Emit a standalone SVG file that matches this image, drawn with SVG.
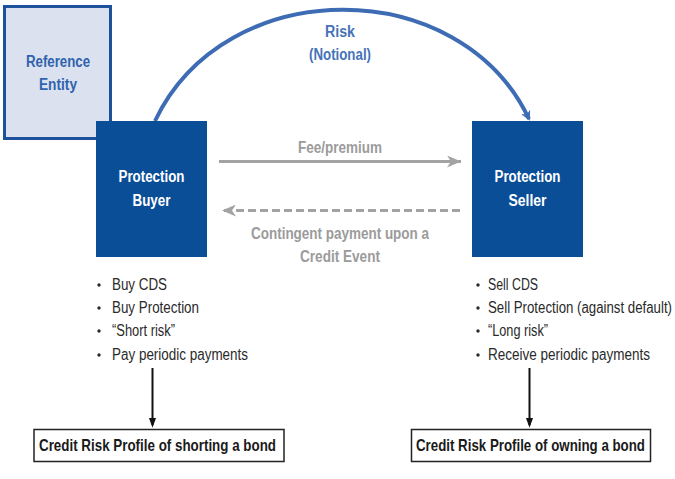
<svg xmlns="http://www.w3.org/2000/svg" width="675" height="479" viewBox="0 0 675 479">
<style>
.nar{font-family:"Liberation Sans Narrow","Liberation Sans",Arial,sans-serif;}
.node{fill:#0b4e98;}
.nlab{fill:#ffffff;font-weight:bold;font-size:16px;text-anchor:middle;}
.blue{fill:#2f63ad;font-weight:bold;font-size:16px;text-anchor:middle;}
.risk{fill:#4672b8;font-weight:bold;font-size:16px;text-anchor:middle;}
.gray{fill:#9b9b9b;font-weight:bold;font-size:16px;text-anchor:middle;}
.bul{fill:#2a2a2a;font-size:16px;}
.box{fill:#ffffff;stroke:#222;stroke-width:1.5;}
.boxt{fill:#1a1a1a;font-weight:bold;font-size:16.5px;}
.dot{fill:#2a2a2a;}
</style>
<defs>
<marker id="mBlue" markerWidth="10" markerHeight="10" refX="8" refY="5" orient="auto" markerUnits="userSpaceOnUse" viewBox="0 0 10 10">
<path d="M0,0 L10,5 L0,10 L3,5 Z" fill="#3e6cb4"/>
</marker>
<marker id="mGray" markerWidth="14" markerHeight="12" refX="14" refY="6" orient="auto" markerUnits="userSpaceOnUse" viewBox="0 0 14 12">
<path d="M0,0 L14,6 L0,12 L4,6 Z" fill="#a3a3a3"/>
</marker>
<marker id="mBlack" markerWidth="10" markerHeight="14" refX="10" refY="5" orient="auto" markerUnits="userSpaceOnUse" viewBox="0 0 14 10">
<path d="M0,0 L14,5 L0,10 Z" fill="#111"/>
</marker>
</defs>

<g id="reference-entity">
<rect x="4.5" y="6.5" width="106" height="132" fill="#dbe1ef" stroke="#1d519b" stroke-width="3"/>
<text class="nar blue" x="58" y="67" textLength="64" lengthAdjust="spacingAndGlyphs">Reference</text>
<text class="nar blue" x="58" y="90" textLength="38" lengthAdjust="spacingAndGlyphs">Entity</text>
</g>

<g id="connectors">
<path d="M155,121 C225,-27 460,-27 529,119" fill="none" stroke="#3e6cb4" stroke-width="4" marker-end="url(#mBlue)"/>
<line x1="219" y1="161.5" x2="461" y2="161.5" stroke="#a3a3a3" stroke-width="3" marker-end="url(#mGray)"/>
<line x1="460" y1="210.5" x2="222" y2="210.5" stroke="#a3a3a3" stroke-width="3" stroke-dasharray="8,4" marker-end="url(#mGray)"/>
<line x1="152.5" y1="368" x2="152.5" y2="425" stroke="#111" stroke-width="2" marker-end="url(#mBlack)"/>
<line x1="529.5" y1="368" x2="529.5" y2="425" stroke="#111" stroke-width="2" marker-end="url(#mBlack)"/>
<text class="nar risk" x="340" y="37" textLength="30" lengthAdjust="spacingAndGlyphs">Risk</text>
<text class="nar risk" x="340" y="60" textLength="62" lengthAdjust="spacingAndGlyphs">(Notional)</text>
<text class="nar gray" x="340" y="153" textLength="84" lengthAdjust="spacingAndGlyphs">Fee/premium</text>
<text class="nar gray" x="340" y="239" textLength="178" lengthAdjust="spacingAndGlyphs">Contingent payment upon a</text>
<text class="nar gray" x="340" y="262" textLength="80" lengthAdjust="spacingAndGlyphs">Credit Event</text>
</g>

<g id="protection-buyer">
<rect class="node" x="96" y="121" width="111" height="136"/>
<text class="nar nlab" x="151.5" y="182" textLength="66" lengthAdjust="spacingAndGlyphs">Protection</text>
<text class="nar nlab" x="151.5" y="206" textLength="38" lengthAdjust="spacingAndGlyphs">Buyer</text>
</g>

<g id="protection-seller">
<rect class="node" x="472" y="121" width="111" height="136"/>
<text class="nar nlab" x="527.5" y="182" textLength="66" lengthAdjust="spacingAndGlyphs">Protection</text>
<text class="nar nlab" x="527.5" y="206" textLength="38" lengthAdjust="spacingAndGlyphs">Seller</text>
</g>

<g id="buyer-bullets">
<circle class="dot" cx="99" cy="285" r="1.7"/>
<circle class="dot" cx="99" cy="308" r="1.7"/>
<circle class="dot" cx="99" cy="331" r="1.7"/>
<circle class="dot" cx="99" cy="355" r="1.7"/>
<text class="nar bul" x="112" y="290" textLength="55" lengthAdjust="spacingAndGlyphs">Buy CDS</text>
<text class="nar bul" x="112" y="313" textLength="87" lengthAdjust="spacingAndGlyphs">Buy Protection</text>
<text class="nar bul" x="112" y="336" textLength="63" lengthAdjust="spacingAndGlyphs">“Short risk”</text>
<text class="nar bul" x="112" y="360" textLength="136" lengthAdjust="spacingAndGlyphs">Pay periodic payments</text>
</g>

<g id="seller-bullets">
<circle class="dot" cx="478" cy="285" r="1.7"/>
<circle class="dot" cx="478" cy="308" r="1.7"/>
<circle class="dot" cx="478" cy="331" r="1.7"/>
<circle class="dot" cx="478" cy="355" r="1.7"/>
<text class="nar bul" x="488" y="290" textLength="50" lengthAdjust="spacingAndGlyphs">Sell CDS</text>
<text class="nar bul" x="488" y="313" textLength="184" lengthAdjust="spacingAndGlyphs">Sell Protection (against default)</text>
<text class="nar bul" x="488" y="336" textLength="60" lengthAdjust="spacingAndGlyphs">“Long risk”</text>
<text class="nar bul" x="488" y="360" textLength="162" lengthAdjust="spacingAndGlyphs">Receive periodic payments</text>
</g>

<g id="profile-short">
<rect class="box" x="34" y="429.5" width="250" height="32"/>
<text class="nar boxt" x="39" y="451" textLength="237" lengthAdjust="spacingAndGlyphs">Credit Risk Profile of shorting a bond</text>
</g>

<g id="profile-long">
<rect class="box" x="411.5" y="429.5" width="239" height="32"/>
<text class="nar boxt" x="416" y="451" textLength="229" lengthAdjust="spacingAndGlyphs">Credit Risk Profile of owning a bond</text>
</g>
</svg>
